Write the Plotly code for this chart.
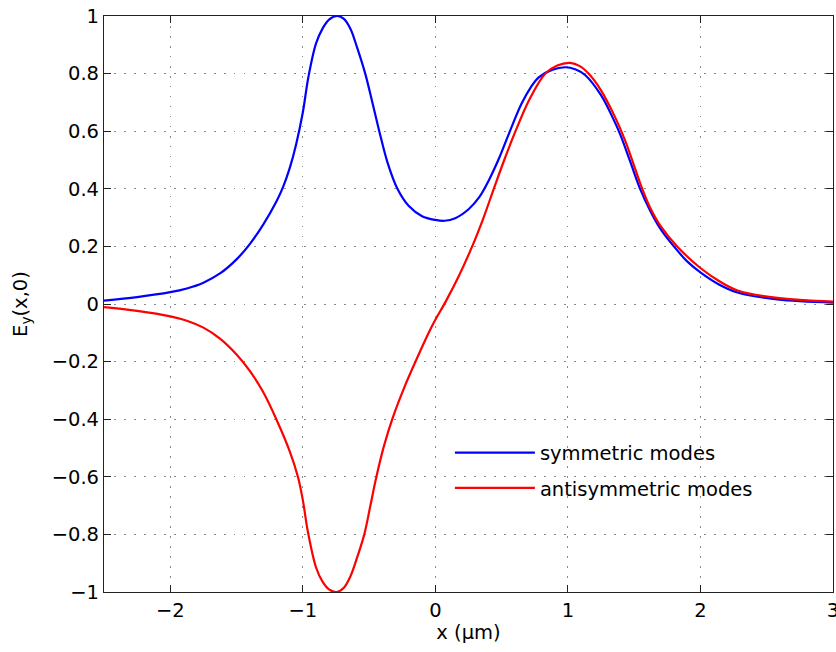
import plotly.graph_objects as go

# symmetric mode field profile
sym_x = [-2.5, -2.25, -2.0, -1.875, -1.75, -1.625, -1.5, -1.4, -1.3, -1.2, -1.15, -1.1,
         -1.05, -1.0, -0.957, -0.9, -0.85, -0.8, -0.741, -0.69, -0.64, -0.59, -0.529,
         -0.475, -0.423, -0.36, -0.286, -0.2, -0.1, 0.0, 0.07, 0.15, 0.253, 0.33, 0.404,
         0.48, 0.554, 0.65, 0.72, 0.78, 0.88, 0.98, 1.06, 1.13, 1.25, 1.33, 1.394, 1.47,
         1.545, 1.62, 1.7, 1.8, 1.9, 2.0, 2.14, 2.28, 2.58, 3.0]
sym_y = [0.012, 0.024, 0.041, 0.054, 0.074, 0.106, 0.155, 0.208, 0.275, 0.355, 0.405, 0.47,
         0.555, 0.665, 0.79, 0.905, 0.957, 0.988, 1.0, 0.99, 0.955, 0.89, 0.80,
         0.70, 0.60, 0.49, 0.40, 0.34, 0.305, 0.292, 0.289, 0.298, 0.33, 0.37, 0.43,
         0.505, 0.59, 0.695, 0.752, 0.787, 0.813, 0.822, 0.814, 0.795, 0.725, 0.655, 0.59, 0.495,
         0.40, 0.325, 0.26, 0.20, 0.148, 0.11, 0.068, 0.04, 0.016, 0.005]

# antisymmetric mode field profile
anti_x = [-2.5, -2.25, -2.0, -1.875, -1.75, -1.625, -1.5, -1.4, -1.3, -1.2, -1.1, -1.037,
          -1.0, -0.962, -0.9, -0.85, -0.8, -0.745, -0.69, -0.64, -0.59, -0.536, -0.49,
          -0.448, -0.39, -0.323, -0.23, -0.135, -0.05, 0.0, 0.08, 0.18, 0.278, 0.36,
          0.441, 0.52, 0.605, 0.71, 0.83, 0.92, 1.018, 1.09, 1.156, 1.25, 1.35, 1.43,
          1.5, 1.557, 1.62, 1.7, 1.83, 2.0, 2.14, 2.28, 2.58, 3.0]
anti_y = [-0.011, -0.024, -0.043, -0.058, -0.082, -0.12, -0.175, -0.232, -0.305, -0.40, -0.51, -0.60,
          -0.68, -0.79, -0.915, -0.965, -0.992, -1.0, -0.985, -0.945, -0.88, -0.80, -0.70,
          -0.607, -0.497, -0.397, -0.285, -0.185, -0.10, -0.055, 0.01, 0.10, 0.20, 0.295,
          0.40, 0.50, 0.60, 0.71, 0.80, 0.828, 0.837, 0.826, 0.80, 0.742, 0.655, 0.57,
          0.48, 0.405, 0.335, 0.27, 0.197, 0.125, 0.08, 0.047, 0.021, 0.008]

x_ticks = [-2, -1, 0, 1, 2, 3]
y_ticks = [-1, -0.8, -0.6, -0.4, -0.2, 0, 0.2, 0.4, 0.6, 0.8, 1]

FONT = "DejaVu Sans, Arial, sans-serif"
FS = 19.5

fig = go.Figure()
fig.add_trace(go.Scatter(x=sym_x, y=sym_y, mode="lines", name="symmetric modes",
                         legendgroup="sym",
                         line=dict(color="#0000FF", width=2.2, shape="spline", smoothing=1.0)))
fig.add_trace(go.Scatter(x=anti_x, y=anti_y, mode="lines", name="antisymmetric modes",
                         legendgroup="anti",
                         line=dict(color="#FF0000", width=2.2, shape="spline", smoothing=1.0)))

axis_common = dict(
    showline=True, linecolor="#222222", linewidth=1.2, mirror="ticks",
    ticks="inside", ticklen=7, tickwidth=1.2, tickcolor="#222222",
    showgrid=True, gridcolor="#8a8a8a", gridwidth=1, griddash="1.5px,8.5px",
    zeroline=False, automargin=False, ticklabeloverflow="allow",
    tickfont=dict(family=FONT, size=FS, color="black"),
)

fig.update_xaxes(range=[-2.5, 3.0005], tickvals=x_ticks, ticklabelstandoff=0,
                 title=dict(text="x (μm)", font=dict(family=FONT, size=FS, color="black"), standoff=3),
                 **axis_common)
fig.update_yaxes(range=[-1, 1], tickvals=y_ticks, ticklabelstandoff=0,
                 title=dict(text="E<sub>y</sub>(x,0)", font=dict(family=FONT, size=FS, color="black"), standoff=18),
                 **axis_common)

fig.update_layout(
    width=836, height=652,
    margin=dict(l=104, r=3, t=16, b=60),
    paper_bgcolor="white", plot_bgcolor="white",
    showlegend=True,
    legend=dict(x=0.4745, y=0.2753, xanchor="left", yanchor="top",
                bgcolor="rgba(255,255,255,0)", borderwidth=0,
                itemwidth=80, tracegroupgap=7,
                font=dict(family=FONT, size=FS, color="black")),
)

fig.write_html("out.html", config={"displayModeBar": False},
               post_script="document.body.style.margin='0';document.body.style.padding='0';")
